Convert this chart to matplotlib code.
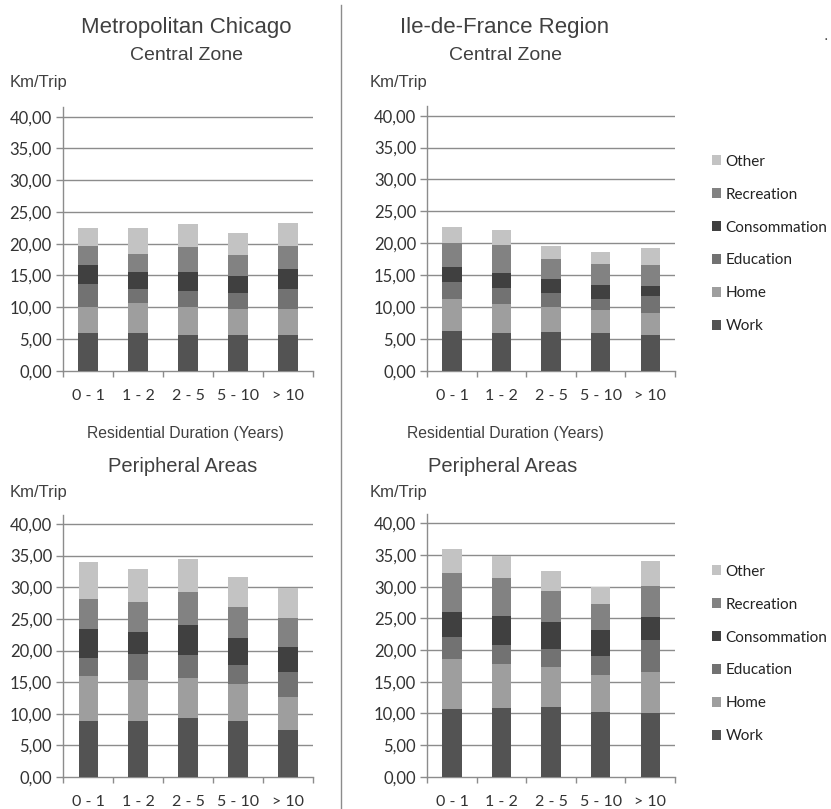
import matplotlib
matplotlib.use("Agg")
import matplotlib.pyplot as plt
from matplotlib.patches import Patch
from matplotlib.lines import Line2D
import numpy as np

# ---- data (km per trip, by trip purpose) ----
categories = ["0 - 1", "1 - 2", "2 - 5", "5 - 10", "> 10"]
purposes = ["Work", "Home", "Education", "Consommation", "Recreation", "Other"]

chicago_central = {
    "Work":         [5.88, 5.88, 5.67, 5.67, 5.67],
    "Home":         [4.09, 4.72, 4.30, 4.04, 4.04],
    "Education":    [3.73, 2.26, 2.63, 2.47, 3.15],
    "Consommation": [2.94, 2.63, 2.99, 2.73, 3.10],
    "Recreation":   [3.05, 2.88, 3.94, 3.36, 3.67],
    "Other":        [2.83, 4.15, 3.57, 3.46, 3.57],
}
idf_central = {
    "Work":         [6.27, 5.86, 6.12, 5.96, 5.54],
    "Home":         [4.97, 4.55, 3.92, 3.56, 3.45],
    "Education":    [2.72, 2.51, 2.14, 1.72, 2.72],
    "Consommation": [2.30, 2.35, 2.20, 2.20, 1.57],
    "Recreation":   [3.82, 4.44, 3.14, 3.24, 3.30],
    "Other":        [2.51, 2.30, 1.98, 1.93, 2.71],
}
chicago_periph = {
    "Work":         [8.91, 8.91, 9.38, 8.85, 7.38],
    "Home":         [7.06, 6.43, 6.32, 5.80, 5.32],
    "Education":    [2.84, 4.05, 3.59, 3.06, 3.90],
    "Consommation": [4.54, 3.48, 4.69, 4.27, 4.01],
    "Recreation":   [4.74, 4.74, 5.22, 4.84, 4.53],
    "Other":        [5.85, 5.22, 5.32, 4.80, 4.79],
}
idf_periph = {
    "Work":         [10.74, 10.89, 11.00, 10.21, 10.00],
    "Home":         [7.84, 6.95, 6.37, 5.90, 6.53],
    "Education":    [3.47, 2.95, 2.79, 2.94, 5.05],
    "Consommation": [3.90, 4.63, 4.21, 4.06, 3.58],
    "Recreation":   [6.21, 5.90, 5.00, 4.15, 4.95],
    "Other":        [3.79, 3.47, 3.10, 2.63, 3.94],
}

colors = {
    "Work": "#535353",
    "Home": "#9e9e9e",
    "Education": "#727272",
    "Consommation": "#404040",
    "Recreation": "#828282",
    "Other": "#c3c3c3",
}

W, H = 831, 809
fig = plt.figure(figsize=(W / 100, H / 100), dpi=100)
fig.patch.set_facecolor("white")

TITLE_FONT = ["Liberation Sans", "DejaVu Sans"]
TICK_FONT = ["Lato", "DejaVu Sans"]
TEXT_C = "#404040"
GRID_C = "#8c8c8c"
YTOP = 41.5


def px(x, y):
    return x / W, 1 - y / H


def make_panel(data, x0, x1, y_zero, y_forty):
    unit = (y_zero - y_forty) / 40.0
    top = y_zero - unit * YTOP
    ax = fig.add_axes([x0 / W, 1 - y_zero / H, (x1 - x0) / W, (y_zero - top) / H])
    xs = np.arange(len(categories))
    bottom = np.zeros(len(categories))
    for p in purposes:
        vals = np.array(data[p])
        ax.bar(xs, vals, width=0.39, bottom=bottom, color=colors[p],
               edgecolor="none", zorder=3)
        bottom += vals
    ax.set_xlim(-0.5, len(categories) - 0.5)
    ax.set_ylim(0, YTOP)
    yt = np.arange(0, 41, 5)
    ax.set_yticks(yt)
    ax.set_yticklabels([f"{v:.2f}".replace(".", ",") for v in yt],
                       family=TICK_FONT, fontsize=12, color="#333333")
    for v in yt[1:]:
        ax.axhline(v, color=GRID_C, lw=1.0, zorder=1)
    # category boundaries carry the x ticks, labels sit at bar centres
    ax.set_xticks(np.arange(-0.5, len(categories)), minor=False)
    ax.set_xticklabels([])
    ax.set_xticks(xs, minor=True)
    ax.set_xticklabels(categories, minor=True, family=TICK_FONT,
                       fontsize=11.5, color="#333333")
    ax.tick_params(axis="x", which="major", direction="out", length=4,
                   color=GRID_C, width=1)
    ax.tick_params(axis="x", which="minor", length=0, pad=13)
    ax.tick_params(axis="y", direction="out", length=5, color=GRID_C,
                   width=1, pad=3)
    for s in ("top", "right"):
        ax.spines[s].set_visible(False)
    for s in ("left", "bottom"):
        ax.spines[s].set_color(GRID_C)
        ax.spines[s].set_linewidth(1)
    ax.set_facecolor("none")
    return ax


make_panel(chicago_central, 63, 313, 370.7, 116.7)
make_panel(idf_central, 427.3, 675, 370.7, 115.7)
make_panel(chicago_periph, 63.3, 313, 777, 524)
make_panel(idf_periph, 427.3, 675, 776.7, 523.3)

# separator between the two regions
fig.add_artist(Line2D([341 / W, 341 / W], [1 - 5 / H, 0], color="#8c8c8c",
                      lw=1, transform=fig.transFigure))


def ftext(x, y, s, size, ha="center", font=TITLE_FONT, color=TEXT_C):
    fx, fy = px(x, y)
    fig.text(fx, fy, s, ha=ha, va="center", fontsize=size, family=font,
             color=color)


# titles and axis captions
ftext(186, 27, "Metropolitan Chicago", 16)
ftext(187, 56, "Central Zone", 14)
ftext(505, 27, "Ile-de-France Region", 16)
ftext(505, 56, "Central Zone", 14)
ftext(10, 83, "Km/Trip", 12, ha="left")
ftext(370, 83, "Km/Trip", 12, ha="left")
ftext(185, 433, "Residential Duration (Years)", 11.3)
ftext(505, 433, "Residential Duration (Years)", 11.3)
ftext(183, 467, "Peripheral Areas", 14.5)
ftext(503, 467, "Peripheral Areas", 14.5)
ftext(10, 492, "Km/Trip", 12, ha="left")
ftext(370, 492, "Km/Trip", 12, ha="left")
ftext(825.5, 36, ".", 12, color="#555555")

# legends
handles = [Patch(facecolor=colors[p], edgecolor="none", label=p)
           for p in reversed(purposes)]
for ycen in (244, 654):
    lx, ly = px(712, ycen)
    fig.legend(handles=handles, loc="center left", bbox_to_anchor=(lx, ly),
               frameon=False, handlelength=0.6, handleheight=0.6,
               handletextpad=0.28, labelspacing=1.24, borderpad=0,
               borderaxespad=0,
               prop={"family": TICK_FONT, "size": 11}, labelcolor="#222222")

fig.savefig("out.png", dpi=100, facecolor="white")
